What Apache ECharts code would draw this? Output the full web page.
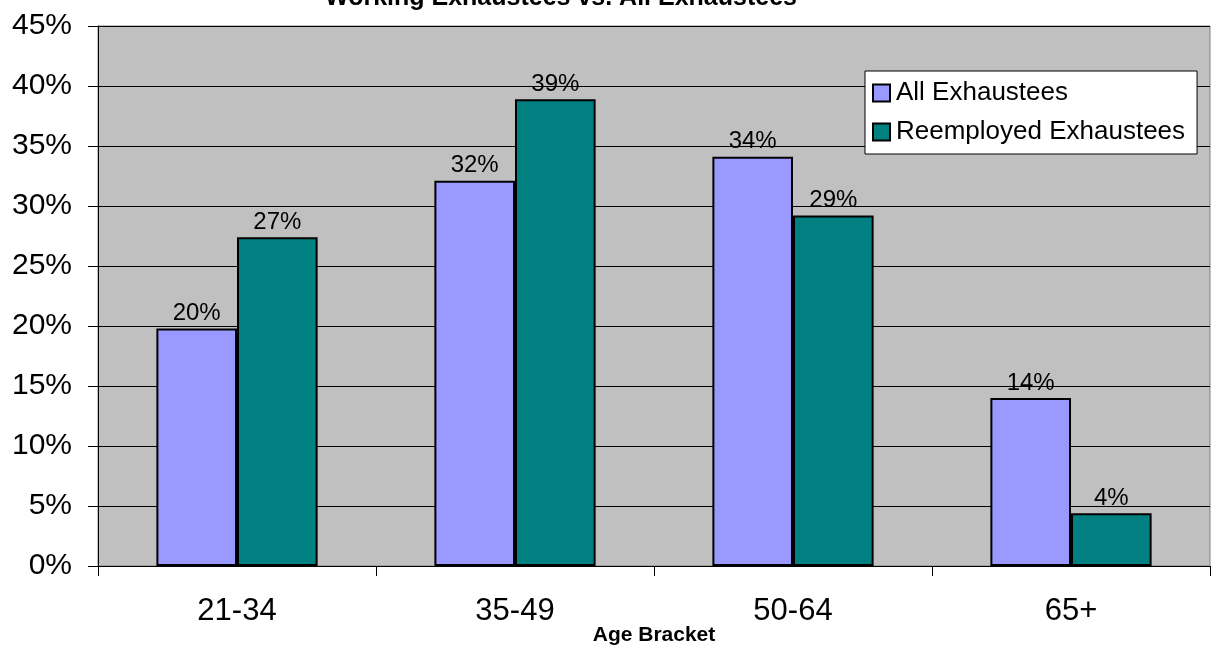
<!DOCTYPE html>
<html>
<head>
<meta charset="utf-8">
<script src="https://cdn.jsdelivr.net/npm/echarts@6/dist/echarts.min.js"></script>
<style>
  html, body { margin: 0; padding: 0; background: #fff; }
  #chart { width: 1211px; height: 648px; }
</style>
</head>
<body>
<div id="chart"></div>
<script>
// age brackets and shares (percent)
var categories = ['21-34', '35-49', '50-64', '65+'];
var allExhaustees = [19.8, 32.1, 34.1, 14.0];
var reemployedExhaustees = [27.4, 38.9, 29.2, 4.4];
var yTicks = [0, 5, 10, 15, 20, 25, 30, 35, 40, 45];

var myChart = echarts.init(document.getElementById('chart'));

var font = 'Liberation Sans, Arial, sans-serif';

var barLabel = {
    show: true,
    position: 'top',
    distance: 3,
    color: '#000',
    fontFamily: font,
    fontSize: 24,
    formatter: function(p) { return Math.round(p.value) + '%'; }
};

var option = {
    animation: false,
    title: {
        text: 'Working Exhaustees vs. All Exhaustees',
        left: 320,
        top: -19,
        textStyle: { fontFamily: font, fontSize: 25, fontWeight: 'bold', color: '#000' }
    },
    legend: {
        orient: 'vertical',
        left: 865,
        top: 71,
        icon: 'rect',
        itemWidth: 17,
        itemHeight: 17,
        itemGap: 13,
        padding: [9, 12, 9, 7],
        backgroundColor: '#fff',
        borderColor: '#000',
        borderWidth: 1,
        borderRadius: 0,
        itemStyle: { borderColor: '#000', borderWidth: 2 },
        textStyle: { fontFamily: font, fontSize: 26, color: '#000', padding: [0, 0, 0, 1] },
        data: ['All Exhaustees', 'Reemployed Exhaustees']
    },
    grid: {
        left: 98,
        right: 1,
        top: 26,
        bottom: 82,
        outerBoundsMode: 'none',
        containLabel: false,
        show: true,
        backgroundColor: '#C0C0C0',
        borderColor: '#808080',
        borderWidth: 1
    },
    xAxis: {
        type: 'category',
        data: categories,
        name: 'Age Bracket',
        nameLocation: 'middle',
        nameGap: 59,
        nameMoveOverlap: false,
        nameTextStyle: { fontFamily: font, fontSize: 21, fontWeight: 'bold', color: '#000' },
        axisLine: { lineStyle: { color: '#000', width: 1 } },
        axisTick: { show: true, length: 10, lineStyle: { color: '#000' } },
        axisLabel: { fontFamily: font, fontSize: 31, color: '#000', margin: 30 }
    },
    yAxis: {
        type: 'value',
        min: yTicks[0],
        max: yTicks[yTicks.length - 1],
        interval: 5,
        axisLine: { show: true, lineStyle: { color: '#000', width: 1 } },
        axisTick: { show: true, length: 10, lineStyle: { color: '#000' } },
        axisLabel: { fontFamily: font, fontSize: 30, color: '#000', margin: 26, formatter: '{value}%' },
        splitLine: { show: true, lineStyle: { color: '#000', width: 1 } }
    },
    series: [{
        name: 'All Exhaustees',
        type: 'bar',
        barGap: '0%',
        barCategoryGap: '42%',
        itemStyle: { color: '#9999FF', borderColor: '#000', borderWidth: 2 },
        label: barLabel,
        data: allExhaustees
    }, {
        name: 'Reemployed Exhaustees',
        type: 'bar',
        itemStyle: { color: '#008080', borderColor: '#000', borderWidth: 2 },
        label: barLabel,
        data: reemployedExhaustees
    }]
};

myChart.setOption(option);
</script>
</body>
</html>
